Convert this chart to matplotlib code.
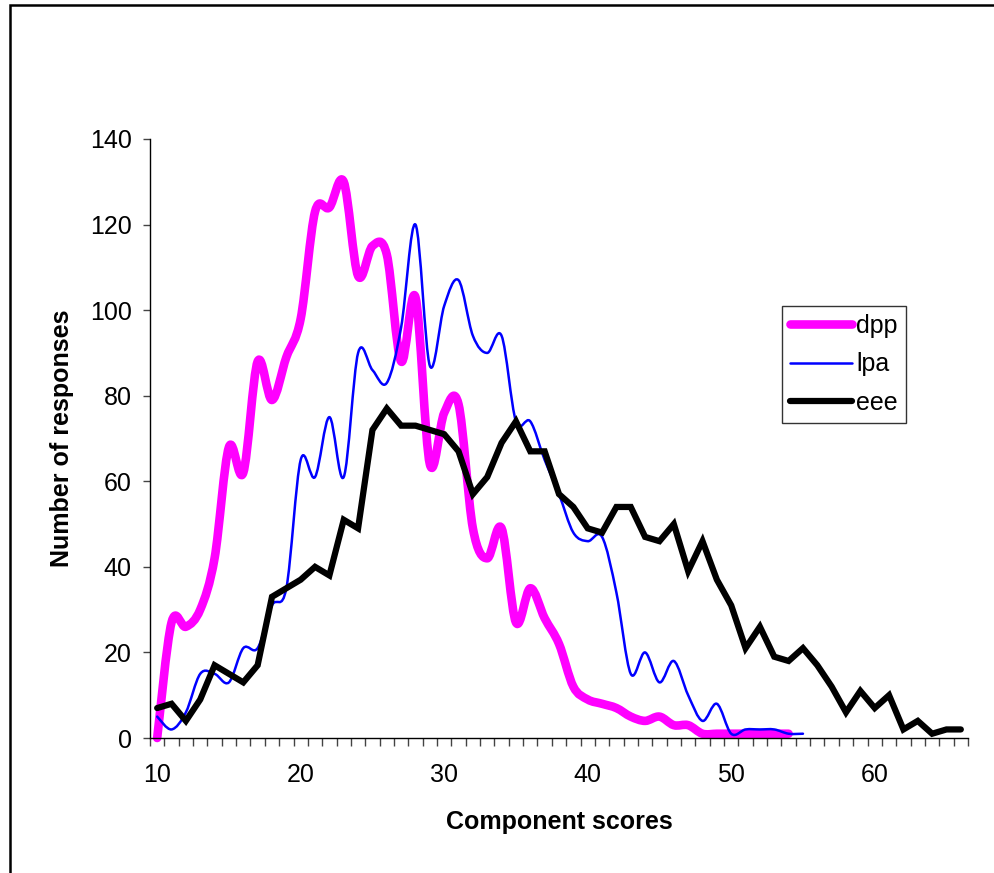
import numpy as np
import matplotlib
matplotlib.use('Agg')
import matplotlib.pyplot as plt
from matplotlib.path import Path
from matplotlib.patches import PathPatch, Rectangle
from matplotlib.lines import Line2D

plt.rcParams['font.family'] = ['Liberation Sans', 'DejaVu Sans']

# component scores (categories) and response counts per series
dpp_x = list(range(10, 55))
dpp = [0, 27, 26, 30, 42, 68, 62, 88, 79, 89,
       98, 123, 124, 130, 108, 115, 113, 88, 103, 64,
       76, 78, 49, 42, 49, 27, 35, 28, 22, 12,
       9, 8, 7, 5, 4, 5, 3, 3, 1, 1,
       1, 1, 1, 1, 1]

lpa_x = list(range(10, 56))
lpa = [5, 2, 6, 15, 15, 13, 21, 21, 31, 35,
       65, 61, 75, 61, 90, 86, 83, 96, 120, 87,
       101, 107, 94, 90, 94, 74, 74, 65, 57, 48,
       46, 47, 34, 15, 20, 13, 18, 10, 4, 8,
       1, 2, 2, 2, 1, 1]

eee_x = list(range(10, 67))
eee = [7, 8, 4, 9, 17, 15, 13, 17, 33, 35,
       37, 40, 38, 51, 49, 72, 77, 73, 73, 72,
       71, 67, 57, 61, 69, 74, 67, 67, 57, 54,
       49, 48, 54, 54, 47, 46, 50, 39, 46, 37,
       31, 21, 26, 19, 18, 21, 17, 12, 6, 11,
       7, 10, 2, 4, 1, 2, 2]

xticks = [10, 20, 30, 40, 50, 60]
yticks = [0, 20, 40, 60, 80, 100, 120, 140]


def smooth_path(x, y):
    # bezier curve through the points, like excel's "smoothed line"
    pts = np.column_stack([x, y]).astype(float)
    n = len(pts)
    verts = [pts[0]]
    codes = [Path.MOVETO]
    for i in range(n - 1):
        p0 = pts[i - 1] if i > 0 else pts[i]
        p1 = pts[i]
        p2 = pts[i + 1]
        p3 = pts[i + 2] if i + 2 < n else pts[i + 1]
        verts += [p1 + (p2 - p0) / 6.0, p2 - (p3 - p1) / 6.0, p2]
        codes += [Path.CURVE4] * 3
    return Path(verts, codes)


fig = plt.figure(figsize=(9.95, 8.73), dpi=100)
ax = fig.add_axes([150 / 995, 135 / 873, 818 / 995, 599 / 873])

ax.add_patch(PathPatch(smooth_path(dpp_x, dpp), fill=False, ec='#FF00FF', lw=6.2,
                       capstyle='round', joinstyle='round', clip_on=False))
ax.add_patch(PathPatch(smooth_path(lpa_x, lpa), fill=False, ec='#0000FF', lw=1.8,
                       capstyle='round', joinstyle='round', clip_on=False))
ax.plot(eee_x, eee, color='black', lw=4.5, solid_joinstyle='miter',
        solid_capstyle='round', clip_on=False)

ax.set_xlim(9.5, 66.5)
ax.set_ylim(0, 140)
ax.spines['top'].set_visible(False)
ax.spines['right'].set_visible(False)
for s in ['left', 'bottom']:
    ax.spines[s].set_linewidth(1.0)
    ax.spines[s].set_color('black')

ax.set_yticks(yticks)
ax.tick_params(axis='y', direction='out', length=5.3, width=1.0, color='#444444',
               labelsize=18, pad=8)
ax.set_xticks(xticks)
ax.set_xticks(np.arange(9.5, 67, 1.0), minor=True)
ax.tick_params(axis='x', which='major', length=0, labelsize=18, pad=18)
ax.tick_params(axis='x', which='minor', direction='out', length=5.5, width=1.0,
               color='#444444')

fig.text(559 / 995, 1 - 822 / 873, 'Component scores', ha='center', va='center',
         fontsize=18, fontweight='bold')
fig.text(62 / 995, 1 - 438 / 873, 'Number of responses', ha='center', va='center',
         rotation=90, fontsize=18, fontweight='bold')

handles = [Line2D([], [], color='#FF00FF', lw=6.2, solid_capstyle='round'),
           Line2D([], [], color='#0000FF', lw=1.8, solid_capstyle='round'),
           Line2D([], [], color='black', lw=4.5, solid_capstyle='round')]
leg = fig.legend(handles, ['dpp', 'lpa', 'eee'], loc='upper left',
                 bbox_to_anchor=(782 / 995, 1 - 306 / 873), fontsize=18,
                 frameon=True, fancybox=False, shadow=False, borderpad=0.32,
                 labelspacing=0.58, handlelength=2.5, handletextpad=0.15,
                 borderaxespad=0)
leg.get_frame().set_edgecolor('black')
leg.get_frame().set_linewidth(1.0)

fig.patches.append(Rectangle((9.5 / 995, -0.1), 1.2, 1.1 - 5 / 873,
                             transform=fig.transFigure, fill=False,
                             ec='black', lw=1.8))

fig.savefig('out.png', dpi=100, facecolor='white')
